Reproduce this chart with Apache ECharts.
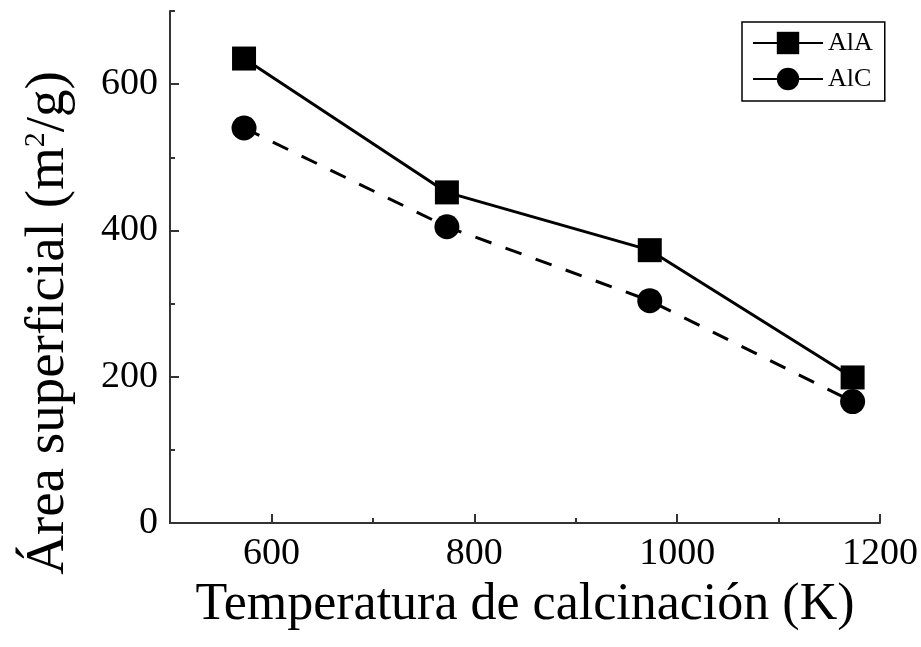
<!DOCTYPE html>
<html>
<head>
<meta charset="utf-8">
<script src="https://cdn.jsdelivr.net/npm/echarts@6/dist/echarts.min.js"></script>
<style>
  html, body { margin: 0; padding: 0; background: #fff; }
  #chart { width: 921px; height: 647px; }
</style>
</head>
<body>
<div id="chart"></div>
<script>
// temperatures (K) and surface areas (m2/g)
const temps = [573, 773, 973, 1173];
const alA = [635, 452, 373, 199];
const alC = [540, 405, 304, 166];

const xMajor = [600, 800, 1000, 1200];
const xMinor = [700, 900, 1100];
const yMajor = [0, 200, 400, 600];
const yMinor = [100, 300, 500, 700];

const font = "'Liberation Serif', 'Times New Roman', serif";

const myChart = echarts.init(document.getElementById("chart"));

const option = {
  animation: false,
  backgroundColor: "#fff",
  grid: { left: 170, right: 37, top: 11, bottom: 124 },
  legend: {
    left: 742,
    top: 22,
    orient: "vertical",
    itemWidth: 70,
    itemHeight: 28,
    itemGap: 10,
    padding: [8, 12, 9, 10],
    borderColor: "#000",
    borderWidth: 1.5,
    textStyle: { fontFamily: font, fontSize: 26, color: "#000" },
    data: [
      { name: "AlA", lineStyle: { type: "solid" } },
      { name: "AlC", lineStyle: { type: "solid" } },
    ],
  },
  xAxis: [
    {
      type: "value",
      min: 500,
      max: 1200,
      name: "Temperatura de calcinación (K)",
      nameLocation: "middle",
      nameGap: 56,
      nameTextStyle: { fontFamily: font, fontSize: 52, color: "#000" },
      axisLine: { onZero: false, lineStyle: { color: "#333", width: 2 } },
      axisTick: {
        inside: true,
        length: 9,
        customValues: xMajor,
        lineStyle: { color: "#333", width: 2 },
      },
      axisLabel: {
        customValues: xMajor,
        margin: 12,
        fontFamily: font,
        fontSize: 38,
        color: "#000",
        formatter: (v) => String(v),
      },
      splitLine: { show: false },
    },
    {
      type: "value",
      min: 500,
      max: 1200,
      position: "bottom",
      axisLine: { show: false },
      axisTick: {
        inside: true,
        length: 5,
        customValues: xMinor,
        lineStyle: { color: "#333", width: 2 },
      },
      axisLabel: { show: false },
      splitLine: { show: false },
    },
  ],
  yAxis: [
    {
      type: "value",
      min: 0,
      max: 700,
      name: "{a|Área superficial (m}{s|2}{a|/g)}",
      nameLocation: "middle",
      nameGap: 93,
      nameTextStyle: {
        padding: [0, 112, 0, 0],
        rich: {
          a: { fontFamily: font, fontSize: 55, color: "#000" },
          s: { fontFamily: font, fontSize: 30, color: "#000", verticalAlign: "top", padding: [0, 0, 26, 0] },
        },
      },
      axisLine: { lineStyle: { color: "#333", width: 2 } },
      axisTick: {
        inside: true,
        length: 9,
        customValues: yMajor,
        lineStyle: { color: "#333", width: 2 },
      },
      axisLabel: {
        customValues: yMajor,
        margin: 12,
        fontFamily: font,
        fontSize: 38,
        color: "#000",
      },
      splitLine: { show: false },
    },
    {
      type: "value",
      min: 0,
      max: 700,
      position: "left",
      axisLine: { show: false },
      axisTick: {
        inside: true,
        length: 5,
        customValues: yMinor,
        lineStyle: { color: "#333", width: 2 },
      },
      axisLabel: { show: false },
      splitLine: { show: false },
    },
  ],
  series: [
    {
      name: "AlA",
      type: "line",
      data: temps.map((t, i) => [t, alA[i]]),
      symbol: "rect",
      symbolSize: 24,
      itemStyle: { color: "#000" },
      lineStyle: { color: "#000", width: 3, type: "solid" },
    },
    {
      name: "AlC",
      type: "line",
      data: temps.map((t, i) => [t, alC[i]]),
      symbol: "circle",
      symbolSize: 25,
      itemStyle: { color: "#000" },
      lineStyle: { color: "#000", width: 3, type: [17, 15] },
    },
  ],
};

option && myChart.setOption(option);
</script>
</body>
</html>
